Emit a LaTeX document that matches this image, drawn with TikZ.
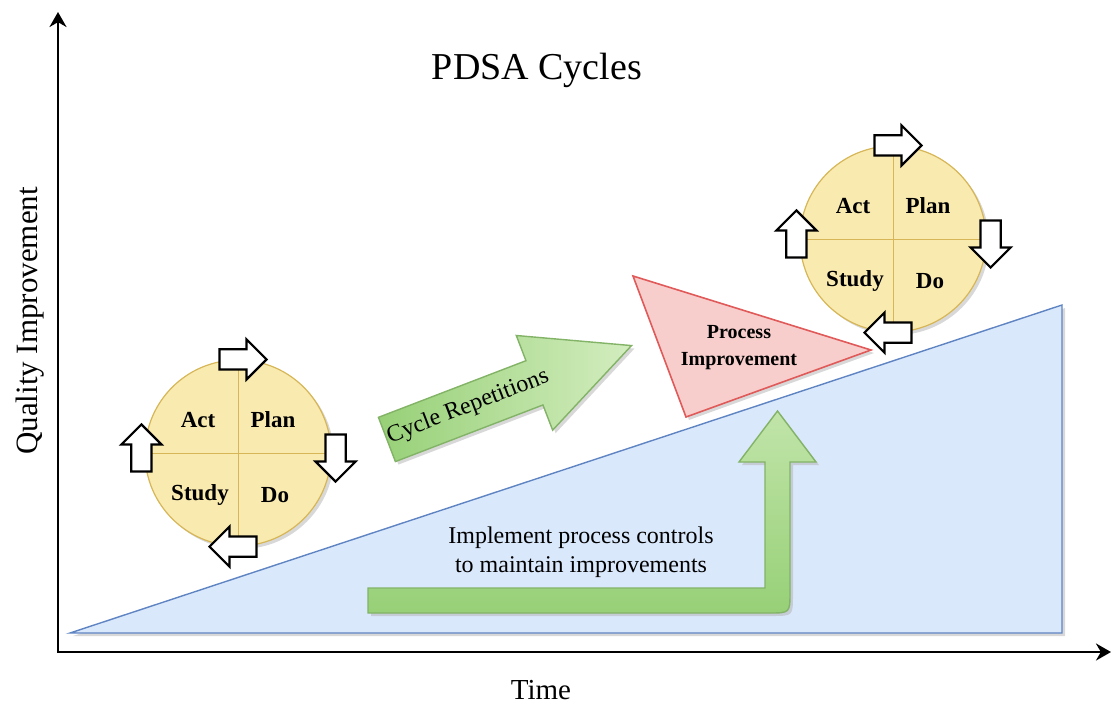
\documentclass[tikz,border=0pt]{standalone}
\usepackage{fontspec}
\setmainfont{Liberation Serif}
\usetikzlibrary{arrows.meta,shapes.arrows,shadows,calc}

\definecolor{cyclefill}{HTML}{F9EAB0}
\definecolor{cycleline}{HTML}{D6B656}
\definecolor{risefill}{HTML}{DAE8FC}
\definecolor{riseline}{HTML}{5F84C2}
\definecolor{procfill}{HTML}{F8CECC}
\definecolor{procline}{HTML}{E05A5A}
\definecolor{greenlight}{HTML}{D3EDBF}
\definecolor{greendark}{HTML}{97D077}
\definecolor{greenline}{HTML}{82B366}

\begin{document}
\begin{tikzpicture}[x=1pt, y=-1pt,
    axis/.style={line width=2.6pt, {Stealth[length=15pt,width=17pt]}-{Stealth[length=15pt,width=17pt]}},
    softshadow/.style={drop shadow={shadow xshift=3pt, shadow yshift=-3pt, fill=black!30, opacity=0.5}},
    pdsacircle/.style={circle, draw=cycleline, fill=cyclefill, line width=1.2pt, minimum size=186pt, inner sep=0pt, softshadow},
    turnarrow/.style={single arrow, draw=black, fill=white, line width=2.2pt, inner xsep=0pt, inner ysep=9pt,
        single arrow head extend=10pt, minimum height=47pt},
    phase/.style={font=\bfseries\fontsize{23}{27}\selectfont},
    greenblock/.style={draw=greenline, line width=1.4pt, softshadow}
  ]

  \useasboundingbox (0,0) rectangle (1112,704);

  % area under the improvement line
  \draw[draw=riseline, fill=risefill, line width=1.4pt, softshadow] (70,633) -- (1062,305) -- (1062,633) -- cycle;

  % axes
  \coordinate (origin) at (58,652);
  \coordinate (ytop) at (58,12);
  \coordinate (xend) at (1111,652);
  \draw[axis] (ytop) -- (origin) -- (xend);

  \node[font=\fontsize{38}{44}\selectfont] (title) at (537,70) {PDSA Cycles};
  \node[font=\fontsize{29}{34}\selectfont] (timelabel) at (541,690) {Time};
  \node[font=\fontsize{31}{36}\selectfont, rotate=90] (qilabel) at (30,321) {Quality Improvement};

  % the two cycles
  \node[pdsacircle] (leftcycle) at (238,453) {};
  \node[pdsacircle] (rightcycle) at (893,239) {};

  \foreach \c in {leftcycle,rightcycle} {
    \draw[cycleline, line width=1pt] (\c.north) -- (\c.south) (\c.west) -- (\c.east);
    \node[phase] (\c-act) at ($(\c)+(-40,-33)$) {Act};
    \node[phase] (\c-plan) at ($(\c)+(35,-33)$) {Plan};
    \node[phase] (\c-study) at ($(\c)+(-38,42)$) {Study};
    \node[phase] (\c-do) at ($(\c)+(37,42)$) {Do};
    \node[turnarrow] (\c-toplan) at (\c.north) {};
    \node[turnarrow, rotate=-90] (\c-todo) at ($(\c.east)+(4,0)$) {};
    \node[turnarrow, rotate=180] (\c-tostudy) at (\c.south) {};
    \node[turnarrow, rotate=90] (\c-toact) at ($(\c.west)+(-3,0)$) {};
  }

  % repetitions
  \node[greenblock, single arrow, left color=greendark, right color=greenlight, rotate=21,
        minimum height=262pt, inner xsep=0pt, inner ysep=23pt, single arrow head extend=27pt,
        single arrow tip angle=52, anchor=tip] (reparrow) at (633,345) {};
  \node[font=\fontsize{24}{28}\selectfont, rotate=21] (replabel) at (468,407) {Cycle Repetitions};

  % process improvement
  \draw[draw=procline, fill=procfill, line width=1.6pt, softshadow] (633,276) -- (871,350) -- (686,417) -- cycle;
  \node[font=\bfseries\fontsize{20}{27}\selectfont, align=center] (procimp) at (739,348) {Process\\Improvement};

  % process controls
  \draw[greenblock, top color=greenlight!70!greendark, bottom color=greendark]
    (368,588) -- (765,588) -- (765,462) -- (739,462) -- (777.5,411) -- (816,462) -- (790,462)
    -- (790,592) .. controls (790,613) .. (769,613) -- (368,613) -- cycle;
  \node[font=\fontsize{24}{29}\selectfont, align=center] (controls) at (581,552) {Implement process controls\\to maintain improvements};

\end{tikzpicture}
\end{document}
